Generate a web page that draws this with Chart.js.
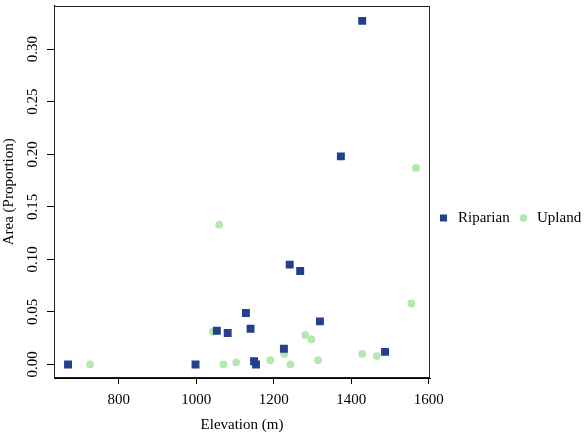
<!DOCTYPE html>
<html>
<head>
<meta charset="utf-8">
<script src="https://cdn.jsdelivr.net/npm/chart.js@4"></script>
<style>
  html, body { margin: 0; padding: 0; background: #fff; }
  #wrap { width: 587px; height: 438px; }
</style>
</head>
<body>
<div id="wrap"><canvas id="scatter" width="587" height="438"></canvas></div>
<script>
// Riparian sites (squares)
var riparianElev = [669, 998, 1053, 1081, 1128, 1140, 1149, 1154, 1226, 1241, 1268, 1319, 1373, 1428, 1487];
var riparianArea = [0, 0, 0.032, 0.030, 0.049, 0.034, 0.003, 0, 0.015, 0.095, 0.089, 0.041, 0.198, 0.327, 0.012];

// Upland sites (circles)
var uplandElev = [726, 1042, 1059, 1070, 1103, 1191, 1227, 1243, 1281, 1297, 1314, 1428, 1466, 1555, 1567];
var uplandArea = [0, 0.031, 0.133, 0, 0.002, 0.004, 0.010, 0, 0.028, 0.024, 0.004, 0.010, 0.008, 0.058, 0.187];

var seriesNames = ['Riparian', 'Upland'];
var xTicks = [800, 1000, 1200, 1400, 1600];
var yTicks = [0, 0.05, 0.10, 0.15, 0.20, 0.25, 0.30];

var serif = '"Liberation Serif", "DejaVu Serif", serif';
var blue = '#233f8e';
var green = '#b5e8b0';

function toPoints(xs, ys) {
    return xs.map(function(x, i) { return { x: x, y: ys[i] }; });
}

// box, rotated y labels, axis titles and legend
var extras = {
    id: 'extras',
    afterDraw: function(chart) {
        var ctx = chart.ctx;
        var area = chart.chartArea;
        var ys = chart.scales.y;
        ctx.save();
        ctx.strokeStyle = '#222';
        ctx.lineWidth = 1;
        ctx.strokeRect(Math.round(area.left) + 0.5, Math.round(area.top) + 0.5,
            Math.round(area.right - area.left) - 1, Math.round(area.bottom - area.top) - 1);

        ctx.fillStyle = '#000';
        ctx.font = '15px ' + serif;
        ctx.textAlign = 'center';
        ctx.textBaseline = 'middle';
        yTicks.forEach(function(v) {
            var py = ys.getPixelForValue(v);
            ctx.save();
            ctx.translate(33, py);
            ctx.rotate(-Math.PI / 2);
            ctx.fillText(v.toFixed(2), 0, 0);
            ctx.restore();
        });

        // axis titles
        ctx.fillText('Elevation (m)', (area.left + area.right) / 2, 425);
        ctx.save();
        ctx.translate(9, (area.top + area.bottom) / 2);
        ctx.rotate(-Math.PI / 2);
        ctx.fillText('Area (Proportion)', 0, 0);
        ctx.restore();

        // legend
        var ly = 218;
        ctx.fillStyle = blue;
        ctx.fillRect(440, ly - 3.5, 7, 7);
        ctx.fillStyle = green;
        ctx.beginPath();
        ctx.arc(523.5, ly, 3.8, 0, Math.PI * 2);
        ctx.fill();
        ctx.fillStyle = '#000';
        ctx.textAlign = 'left';
        ctx.fillText(seriesNames[0], 458, ly);
        ctx.fillText(seriesNames[1], 537, ly);
        ctx.restore();
    }
};

var ctx = document.getElementById('scatter').getContext('2d');
var chart = new Chart(ctx, {
    type: 'scatter',
    data: {
        datasets: [{
            label: seriesNames[0],
            data: toPoints(riparianElev, riparianArea),
            pointStyle: 'rect',
            pointRadius: 5.6,
            pointHoverRadius: 5.6,
            borderWidth: 0,
            backgroundColor: blue,
            borderColor: blue
        }, {
            label: seriesNames[1],
            data: toPoints(uplandElev, uplandArea),
            pointStyle: 'circle',
            pointRadius: 3.9,
            pointHoverRadius: 3.9,
            borderWidth: 0,
            backgroundColor: green,
            borderColor: green
        }]
    },
    options: {
        responsive: false,
        animation: false,
        layout: { padding: { left: 0, top: 2, right: 157, bottom: 0 } },
        plugins: {
            legend: { display: false },
            tooltip: { enabled: false }
        },
        scales: {
            x: {
                type: 'linear',
                min: 632.8,
                max: 1603,
                afterFit: function(s) { s.height = 60; },
                afterBuildTicks: function(s) {
                    s.ticks = xTicks.map(function(v) { return { value: v }; });
                },
                grid: { drawOnChartArea: false, drawTicks: true, tickLength: 6, tickColor: '#000' },
                border: { display: true, color: '#000', width: 1 },
                ticks: {
                    color: '#000',
                    padding: 7,
                    maxRotation: 0,
                    font: { family: serif, size: 15 },
                    callback: function(v) { return String(v); }
                }
            },
            y: {
                type: 'linear',
                min: -0.0129,
                max: 0.3415,
                afterFit: function(s) { s.width = 54; },
                afterBuildTicks: function(s) {
                    s.ticks = yTicks.map(function(v) { return { value: v }; });
                },
                grid: { drawOnChartArea: false, drawTicks: true, tickLength: 7, tickColor: '#000' },
                border: { display: true, color: '#000', width: 1 },
                ticks: { display: false }
            }
        }
    },
    plugins: [extras]
});
</script>
</body>
</html>
